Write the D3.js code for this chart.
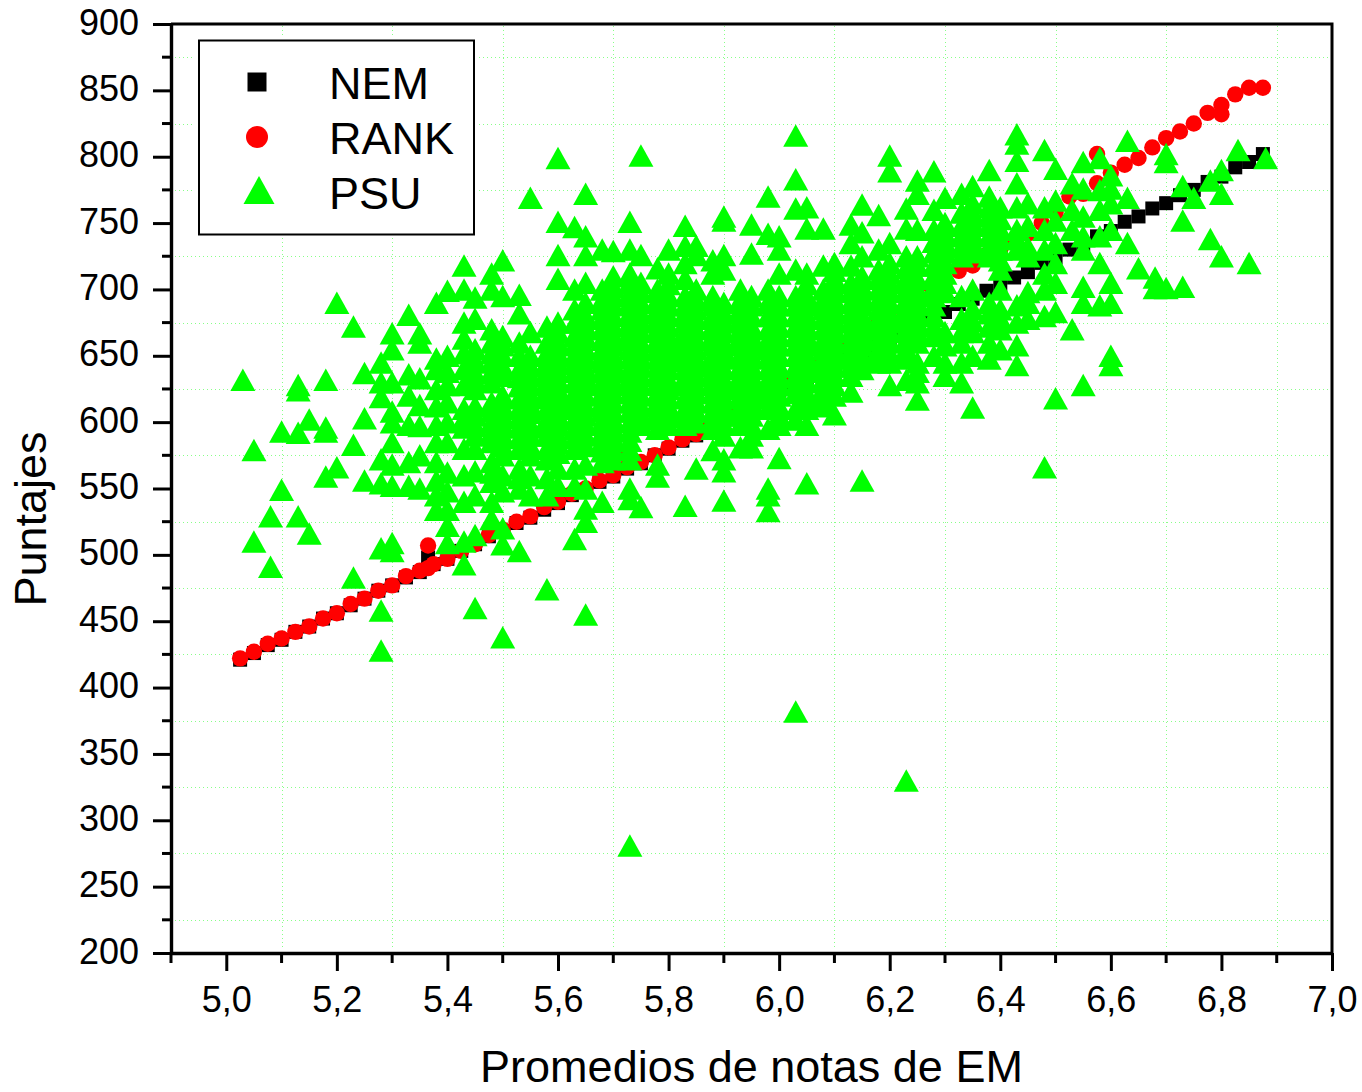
<!DOCTYPE html>
<html><head><meta charset="utf-8">
<style>html,body{margin:0;padding:0;background:#fff}svg{display:block}text{font-family:"Liberation Sans",Arial,sans-serif;fill:#000}</style>
<script src="https://cdn.jsdelivr.net/npm/d3@7"></script></head><body><div id="c"></div><script>
const xTicks=[5.0,5.2,5.4,5.6,5.8,6.0,6.2,6.4,6.6,6.8,7.0];
const xMinor=[4.9,5.1,5.3,5.5,5.7,5.9,6.1,6.3,6.5,6.7,6.9];
const yTicks=[200,250,300,350,400,450,500,550,600,650,700,750,800,850,900];
const yMinor=[225,275,325,375,425,475,525,575,625,675,725,775,825,875];
const seriesNames=["NEM","RANK","PSU"];
const xTitle="Promedios de notas de EM", yTitle="Puntajes";
const nemPoints=[[5.025,421],[5.05,426],[5.075,432],[5.10,436],[5.125,442],[5.15,446],[5.175,452],[5.20,456],[5.225,462],[5.25,467],[5.275,473],[5.30,477],[5.325,483],[5.35,487],[5.365,498],[5.375,493],[5.40,497],[5.425,503],[5.45,508],[5.475,514],[5.50,518],[5.525,524],[5.55,528],[5.575,534],[5.60,539],[5.625,545],[5.65,549],[5.675,555],[5.70,559],[5.725,565],[5.75,569],[5.775,575],[5.80,580],[5.825,586],[5.85,590],[5.875,596],[5.90,600],[5.925,606],[5.95,611],[5.975,617],[6.00,621],[6.025,627],[6.05,631],[6.075,637],[6.10,641],[6.125,647],[6.15,652],[6.175,658],[6.20,662],[6.225,668],[6.25,672],[6.275,678],[6.30,683],[6.325,689],[6.35,693],[6.375,699],[6.40,703],[6.425,709],[6.45,713],[6.475,720],[6.50,724],[6.525,730],[6.55,734],[6.575,740],[6.60,744],[6.625,751],[6.65,755],[6.675,761],[6.70,765],[6.725,771],[6.75,775],[6.775,781],[6.80,785],[6.825,792],[6.85,796],[6.875,802]];
const rankPoints=[[5.025,422],[5.05,427],[5.075,433],[5.10,437],[5.125,442],[5.15,446],[5.175,452],[5.20,456],[5.225,463],[5.25,467],[5.275,473],[5.30,477],[5.325,484],[5.35,488],[5.365,507],[5.365,490],[5.375,493],[5.40,497],[5.425,503],[5.45,508],[5.475,515],[5.50,519],[5.525,525],[5.55,529],[5.575,536],[5.60,540],[5.625,546],[5.65,550],[5.675,556],[5.70,560],[5.725,577],[5.725,566],[5.75,570],[5.775,575],[5.80,581],[5.825,587],[5.85,591],[5.875,597],[5.90,601],[5.925,607],[5.95,612],[5.975,620],[6.00,626],[6.025,632],[6.05,638],[6.075,645],[6.10,650],[6.125,658],[6.15,664],[6.175,672],[6.20,676],[6.225,684],[6.25,690],[6.275,702],[6.30,706],[6.325,714],[6.35,718],[6.375,726],[6.40,730],[6.425,736],[6.45,742],[6.475,750],[6.50,758],[6.525,770],[6.55,772],[6.575,780],[6.575,802],[6.60,788],[6.625,794],[6.65,799],[6.675,807],[6.70,814],[6.725,819],[6.75,825],[6.775,833],[6.80,832],[6.80,839],[6.825,847],[6.85,852],[6.875,852]];
const psuColumns=[
[5.03,[632]],[5.05,[579,510]],[5.08,[529,491]],[5.10,[593,549]],[5.13,[628,624,592,529]],[5.15,[602,516]],[5.18,[632,596,593,559]],[5.20,[690,566]],[5.23,[672,583,483]],[5.25,[637,603,556]],
[5.28,[645,630,619,572,554,505,458,428]],[5.30,[667,655,630,608,600,585,568,552,509,503]],[5.33,[681,636,620,598,570,552]],[5.35,[667,660,633,613,597,575,550]],
[5.38,[690,648,640,625,612,598,585,570,556,545,534]],[5.40,[699,650,638,628,615,600,585,562,548,534,522,509]],[5.43,[718,700,675,663,640,628,610,596,580,560,540,510,493]],[5.45,[694,678,655,637,625,612,597,580,563,545,515,460]],
[5.48,[712,700,670,660,645,630,615,600,585,570,555,540,527]],[5.50,[722,695,665,650,635,620,605,590,575,560,548,520,508,438]],[5.53,[696,682,660,640,627,610,596,580,565,550,503]],[5.55,[769,668,650,635,620,607,590,575,560,545]],
[5.58,[672,660,645,630,618,602,590,572,558,545,474]],[5.60,[799,751,726,708,675,660,645,632,618,605,590,577,565,552]],[5.63,[747,700,685,665,650,638,622,610,595,580,565,552,512]],[5.65,[772,740,726,705,690,672,655,640,628,612,598,582,568,550,535,525,455]],
[5.68,[730,700,685,670,655,645,630,615,600,585,570,540]],[5.70,[729,710,695,680,665,650,638,622,608,595,580]],[5.73,[751,730,712,697,682,668,655,640,628,615,600,586,572,550,542,281]],[5.75,[801,726,705,690,675,660,648,635,620,605,536]],
[5.78,[716,700,685,670,655,642,630,615,602,568,559]],[5.80,[730,712,695,680,665,652,640,625,612,598]],[5.83,[748,733,720,695,682,668,655,640,628,610,598,537]],[5.85,[733,726,700,685,670,655,642,628,615,600,565]],
[5.88,[722,712,695,680,665,650,638,622,608,595,579]],[5.90,[755,752,726,715,690,675,660,648,632,618,605,590,572,563,541]],[5.93,[700,685,670,658,642,628,612,598,581]],[5.95,[749,727,695,680,665,650,635,620,605,590,581]],
[5.98,[770,742,700,690,670,655,640,625,610,595,550,545,533]],[6.00,[740,730,712,695,680,665,650,635,620,605,598,573]],[6.03,[816,783,761,715,695,680,665,650,635,622,610,382]],[6.05,[762,746,712,695,680,665,650,638,622,610,598,554]],
[6.08,[746,718,700,685,670,655,640,625,612]],[6.10,[720,708,692,678,662,648,635,620,606]],[6.13,[749,735,718,705,690,675,660,648,635,623]],[6.15,[764,743,725,710,695,680,665,650,640,556]],
[6.18,[756,730,715,700,685,670,655,645]],[6.20,[801,789,735,720,705,690,675,660,645,628]],[6.23,[761,746,725,708,692,678,662,648,632,330]],[6.25,[782,772,745,718,700,690,675,660,645,630,617]],
[6.28,[789,760,745,728,710,695,680,665,650]],[6.30,[769,750,735,720,705,668,645,635]],[6.33,[772,758,740,725,695,678,660,645,630]],[6.35,[778,765,750,735,700,685,668,650,611]],
[6.38,[790,770,755,740,725,690,672,660,648]],[6.40,[762,745,730,715,700,685,670,655]],[6.43,[817,810,797,780,762,745,730,688,675,658,643]],[6.45,[765,748,732,690,678]],
[6.48,[805,762,745,730,712,700,680,566]],[6.50,[791,767,752,735,720,705,683,618]],[6.53,[780,760,745,670]],[6.55,[796,776,755,740,730,702,690,628]],
[6.58,[799,775,760,740,720,688]],[6.60,[786,776,765,745,705,690,650,643]],[6.63,[812,769,735]],[6.65,[716]],[6.68,[709,701]],[6.70,[802,796,701]],[6.73,[778,752,702]],[6.75,[769]],[6.78,[782,738]],[6.80,[790,772,725]],[6.83,[805]],[6.85,[720]],[6.88,[799]]
];
const psuDenseColumns=[
[5.43,[652,603]],[5.45,[646,605]],[5.48,[652,608,562]],[5.50,[658,612,582]],[5.53,[650,618,588,558]],[5.55,[642,613,582]],[5.58,[638,610,580]],[5.60,[668,638,612,584]],[5.63,[675,644,616,588]],[5.65,[680,648,620,590]],[5.68,[692,662,638,608,578]],
[5.70,[702,672,644,615,588,572]],[5.73,[705,675,648,622,593,579]],[5.75,[698,668,642,612]],[5.78,[692,662,636,608]],[5.80,[704,672,646,618]],[5.83,[708,675,648,619]],[5.85,[692,662,635,608]],[5.88,[688,658,630,602]],[5.90,[682,654,625,598]],[5.93,[692,664,635,605]],[5.95,[688,658,628,598]],[5.98,[680,648,618]],
[6.00,[688,658,628]],[6.03,[688,658,628,602]],[6.05,[704,672,644,616]],[6.08,[692,662,632]],[6.10,[714,685,655,628]],[6.13,[698,668,642]],[6.15,[702,672,646]],[6.18,[708,678,650]],[6.20,[712,682,652]],[6.23,[716,685,655]],[6.25,[725,695,668,638]],[6.28,[736,702,672]],[6.30,[728,698,658]],[6.33,[732,668]],[6.35,[742,676]],[6.38,[748,682]],[6.40,[738,678]],[6.43,[738]],[6.45,[725,698]]
];
const psuCoreColumns=[
[5.45,[632,590]],[5.48,[638,592]],[5.50,[642,598]],[5.53,[634,603]],[5.55,[628,598]],[5.58,[652,624,596]],[5.60,[652,625,598]],[5.63,[658,630,602]],[5.65,[664,634,605]],[5.68,[678,650,622,592]],[5.70,[688,658,630,602]],[5.73,[690,662,634,608]],[5.75,[682,654,628,598]],[5.78,[678,648,622,595]],[5.80,[688,658,632,605]],[5.83,[688,662,634,604]],[5.85,[678,648,622]],[5.88,[672,644,615]],[5.90,[668,640,612]],[5.93,[678,650,620,610]],[5.95,[672,642,612,615]],[5.98,[662,632,623]],[6.00,[672,642,612,628]],[6.03,[672,642,634]],[6.05,[688,658,630,641]],[6.08,[678,648,618,647]],[6.10,[700,670,642,653]],[6.13,[682,654,661]],[6.15,[688,658,667]],[6.18,[692,662,674]],[6.20,[698,668,678]],[6.23,[700,670,686]],[6.25,[708,682]],[6.28,[718,688]],[6.30,[742,712]],[6.33,[748]],[6.35,[757,728]],[6.38,[762,732]],[6.40,[753,722]]
];
const W=1362,H=1092;
const x=d3.scaleLinear().domain([4.9,7.0]).range([171,1332]);
const y=d3.scaleLinear().domain([200,900]).range([953,24]);
const svg=d3.select("#c").append("svg").attr("width",W).attr("height",H).attr("viewBox",`0 0 ${W} ${H}`);
const psuPoints=psuColumns.concat(psuDenseColumns,psuCoreColumns).flatMap(([a,vs])=>vs.map(v=>[a,v]));
// grid
const g=svg.append("g").attr("stroke","#88ff88").attr("stroke-width",1).attr("stroke-dasharray","1 3");
g.selectAll(".v").data(xMinor.slice(1)).join("line").attr("x1",d=>Math.round(x(d))+.5).attr("x2",d=>Math.round(x(d))+.5).attr("y1",26).attr("y2",950);
g.selectAll(".h").data(yMinor).join("line").attr("y1",d=>Math.round(y(d))+.5).attr("y2",d=>Math.round(y(d))+.5).attr("x1",175).attr("x2",1329);
// symbols
const tri={draw(c,s){const w=Math.sqrt(s),h=w*0.9;c.moveTo(0,-h/2);c.lineTo(w/2,h/2);c.lineTo(-w/2,h/2);c.closePath();}};
const sq=d3.symbol().type(d3.symbolSquare).size(14*14)();
const ci=d3.symbol().type(d3.symbolCircle).size(Math.PI*8.2*8.2)();
const tr=d3.symbol().type(tri).size(25*25)();
const plot=svg.append("g");
plot.selectAll(".n").data(nemPoints).join("path").attr("d",sq).attr("fill","#000").attr("transform",d=>`translate(${x(d[0])},${y(d[1])})`);
plot.selectAll(".r").data(rankPoints).join("path").attr("d",ci).attr("fill","#ff0000").attr("transform",d=>`translate(${x(d[0])},${y(d[1])})`);
plot.selectAll(".p").data(psuPoints).join("path").attr("d",tr).attr("fill","#00ff00").attr("transform",d=>`translate(${x(d[0])},${y(d[1])})`);
// frame
svg.append("path").attr("d",`M171,24H1332V953`).attr("fill","none").attr("stroke","#000").attr("stroke-width",3);
// axes
const fmtX=d=>d3.format(".1f")(d).replace(".",",");
function styleAxis(a){a.select(".domain").attr("stroke","#000").attr("stroke-width",3.4);a.selectAll(".tick line").attr("stroke","#000").attr("stroke-width",3);a.selectAll("text").style("font-family",'"Liberation Sans"').attr("fill","#000");}
const ax=svg.append("g").attr("transform","translate(0,953)").call(d3.axisBottom(x).tickValues(xTicks).tickFormat(fmtX).tickSize(18).tickPadding(15).tickSizeOuter(0));
styleAxis(ax);ax.selectAll("text").style("font-size","36px");
const ay=svg.append("g").attr("transform","translate(171,0)").call(d3.axisLeft(y).tickValues(yTicks).tickSize(18).tickPadding(14).tickSizeOuter(0));
styleAxis(ay);ay.selectAll("text").style("font-size","36px").attr("dy","0.28em");
svg.append("g").selectAll("line").data(xMinor).join("line").attr("x1",d=>x(d)).attr("x2",d=>x(d)).attr("y1",953).attr("y2",963).attr("stroke","#000").attr("stroke-width",3);
svg.append("g").selectAll("line").data(yMinor).join("line").attr("y1",d=>y(d)).attr("y2",d=>y(d)).attr("x1",162).attr("x2",171).attr("stroke","#000").attr("stroke-width",3);
svg.append("text").attr("x",751.5).attr("y",1082).attr("text-anchor","middle").style("font-size","45px").text(xTitle);
svg.append("text").attr("transform","translate(46,519) rotate(-90)").attr("text-anchor","middle").style("font-size","45px").text(yTitle);
// legend
svg.append("rect").attr("x",195).attr("y",36).attr("width",283).attr("height",202).attr("fill","#fff");
svg.append("rect").attr("x",199).attr("y",40.5).attr("width",275).attr("height",194).attr("fill","#fff").attr("stroke","#000").attr("stroke-width",2);
const legY=[99,154,209];
svg.selectAll(".lt").data(seriesNames).join("text").attr("x",329).attr("y",(d,i)=>legY[i]).style("font-size","45px").text(d=>d);
svg.append("path").attr("d",d3.symbol().type(d3.symbolSquare).size(19*19)()).attr("transform","translate(257,82)").attr("fill","#000");
svg.append("path").attr("d",d3.symbol().type(d3.symbolCircle).size(Math.PI*11*11)()).attr("transform","translate(257,137)").attr("fill","#ff0000");
svg.append("path").attr("d",d3.symbol().type(tri).size(31*31)()).attr("transform","translate(259,190)").attr("fill","#00ff00");
</script></body></html>
